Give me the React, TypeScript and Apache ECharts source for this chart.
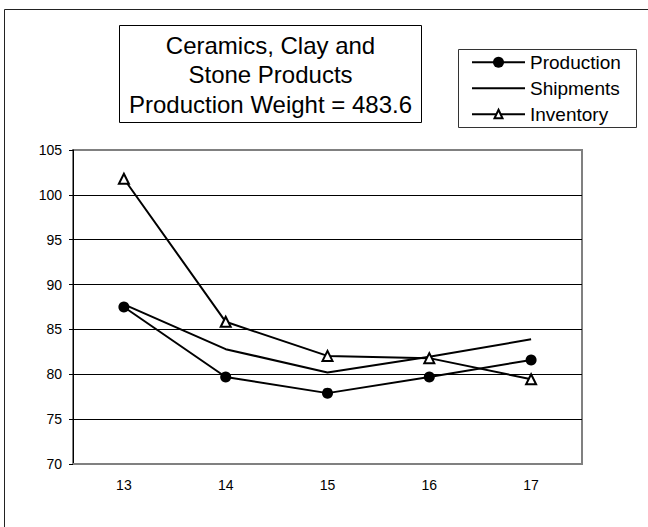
import React, { useEffect, useRef } from "react";
import * as echarts from "echarts";

const categories = ["13", "14", "15", "16", "17"];
const production = [87.5, 79.7, 77.9, 79.7, 81.6];
const shipments = [87.8, 82.8, 80.2, 81.95, 83.9];
const inventory = [101.8, 85.85, 82.05, 81.8, 79.45];
const yMin = 70;
const yMax = 105;
const yStep = 5;
const titleLines = ["Ceramics, Clay and", "Stone Products", "Production Weight = 483.6"];
const legendNames = ["Production", "Shipments", "Inventory"];

const FONT = "'Liberation Sans', Arial, Helvetica, sans-serif";

export default function App() {
  const ref = useRef<HTMLDivElement>(null);
  useEffect(() => {
    if (!ref.current) return;
    const chart = echarts.init(ref.current, null, { renderer: "svg" });
    const grid = { left: 73, top: 150, width: 509, height: 314 };
    const nSplit = (yMax - yMin) / yStep + 1;
    const splitColors = Array.from({ length: nSplit }, (_, i) =>
      i === 0 || i === nSplit - 1 ? "rgba(0,0,0,0)" : "#000"
    );
    const legendX0 = 472;
    const legendX1 = 525;
    const legendYs = [62.3, 88.3, 114.3];
    const legendMid = (legendX0 + legendX1) / 2;

    chart.setOption({
      animation: false,
      backgroundColor: "#fff",
      grid: { ...grid, show: true, borderColor: "#808080", borderWidth: 2, backgroundColor: "transparent" },
      xAxis: {
        type: "category",
        data: categories,
        boundaryGap: true,
        axisLine: { show: true, lineStyle: { color: "#808080", width: 2 } },
        axisTick: { show: false },
        axisLabel: { color: "#000", fontSize: 14, fontFamily: FONT, margin: 14 },
        splitLine: { show: false },
      },
      yAxis: {
        type: "value",
        min: yMin,
        max: yMax,
        interval: yStep,
        axisLine: { show: true, lineStyle: { color: "#000", width: 1 } },
        axisTick: { show: true, inside: false, length: 4, lineStyle: { color: "#000" } },
        axisLabel: { color: "#000", fontSize: 14, fontFamily: FONT, margin: 11 },
        splitLine: { show: true, lineStyle: { color: splitColors, width: 1 } },
      },
      series: [
        {
          name: "Production",
          type: "line",
          data: production,
          symbol: "circle",
          symbolSize: 11,
          lineStyle: { color: "#000", width: 2 },
          itemStyle: { color: "#000" },
          z: 3,
        },
        {
          name: "Shipments",
          type: "line",
          data: shipments,
          symbol: "none",
          lineStyle: { color: "#000", width: 2 },
          itemStyle: { color: "#000" },
          z: 2,
        },
        {
          name: "Inventory",
          type: "line",
          data: inventory,
          symbol: "triangle",
          symbolSize: 10,
          lineStyle: { color: "#000", width: 2 },
          itemStyle: { color: "#fff", borderColor: "#000", borderWidth: 2 },
          z: 4,
        },
      ],
      graphic: [
        {
          type: "rect",
          shape: { x: 4.5, y: 9.5, width: 700, height: 600 },
          style: { fill: "none", stroke: "#222", lineWidth: 1 },
          silent: true,
        },
        {
          type: "rect",
          shape: { x: 119.5, y: 25.5, width: 302, height: 97 },
          style: { fill: "#fff", stroke: "#000", lineWidth: 1 },
          silent: true,
        },
        {
          type: "text",
          x: 270.5,
          y: 74.5,
          style: {
            text: titleLines.join("\n"),
            fontSize: 24,
            lineHeight: 29.5,
            fontFamily: FONT,
            fill: "#000",
            align: "center",
            verticalAlign: "middle",
          },
          silent: true,
        },
        {
          type: "rect",
          shape: { x: 458.5, y: 49.5, width: 178, height: 78 },
          style: { fill: "#fff", stroke: "#333", lineWidth: 1 },
          silent: true,
        },
        ...legendNames.flatMap((name, i) => {
          const y = legendYs[i];
          const items: any[] = [
            {
              type: "line",
              shape: { x1: legendX0, y1: y, x2: legendX1, y2: y },
              style: { stroke: "#000", lineWidth: 2 },
              silent: true,
            },
            {
              type: "text",
              x: 530,
              y: y,
              style: {
                text: name,
                fontSize: 19,
                fontFamily: FONT,
                fill: "#000",
                align: "left",
                verticalAlign: "middle",
              },
              silent: true,
            },
          ];
          if (i === 0) {
            items.push({
              type: "circle",
              shape: { cx: legendMid, cy: y, r: 5.5 },
              style: { fill: "#000" },
              silent: true,
            });
          } else if (i === 2) {
            items.push({
              type: "polygon",
              shape: {
                points: [
                  [legendMid, y - 4.5],
                  [legendMid + 4, y + 4],
                  [legendMid - 4, y + 4],
                ],
              },
              style: { fill: "#fff", stroke: "#000", lineWidth: 2 },
              silent: true,
            });
          }
          return items;
        }),
      ],
    });
    return () => chart.dispose();
  }, []);

  return (
    <div
      ref={ref}
      style={{ position: "fixed", left: 0, top: 0, width: 648, height: 527, background: "#fff" }}
    />
  );
}
